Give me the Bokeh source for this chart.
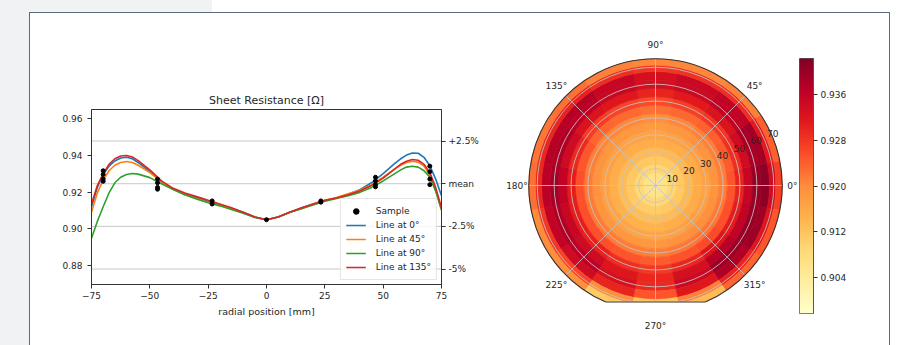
import math
import numpy as np
from bokeh.plotting import figure
from bokeh.models import (Range1d, FixedTicker, LinearAxis, Span, Legend, LegendItem,
                          PrintfTickFormatter, Div, LinearColorMapper, ColumnDataSource)
from bokeh.layouts import row, column
from bokeh.core.properties import value
from bokeh.embed import file_html
from bokeh.resources import INLINE

# ---------------- data ----------------
x_line = [-75, -72.5, -70, -67.5, -65, -62.5, -60, -57.5, -55, -50, -45, -40, -35, -30, -25, -20,
          -15, -10, -5, 0, 5, 10, 15, 20, 25, 30, 35, 40, 45, 50, 55, 57.5, 60, 62.5, 65, 67.5, 70,
          72.5, 75]
line_0 = [0.912, 0.9225, 0.9295, 0.934, 0.9368, 0.9384, 0.9388, 0.938, 0.936, 0.931, 0.9255, 0.9215,
          0.919, 0.917, 0.915, 0.913, 0.911, 0.909, 0.9065, 0.905, 0.9065, 0.909, 0.9113, 0.9135,
          0.9153, 0.9168, 0.9188, 0.9212, 0.925, 0.930, 0.9355, 0.938, 0.9400, 0.9411, 0.941, 0.9388,
          0.9342, 0.927, 0.918]
line_45 = [0.909, 0.9195, 0.9265, 0.9315, 0.9345, 0.936, 0.9365, 0.936, 0.9345, 0.9305, 0.9255,
           0.9215, 0.9185, 0.9165, 0.9145, 0.9128, 0.9108, 0.9088, 0.9065, 0.905, 0.9065, 0.909,
           0.911, 0.9135, 0.9155, 0.917, 0.919, 0.921, 0.924, 0.928, 0.9325, 0.9345, 0.936, 0.9367,
           0.9362, 0.934, 0.929, 0.921, 0.910]
line_90 = [0.895, 0.904, 0.912, 0.9195, 0.925, 0.928, 0.9295, 0.930, 0.9297, 0.9278, 0.9245, 0.9213,
           0.9185, 0.9162, 0.9142, 0.9125, 0.9105, 0.9085, 0.9062, 0.905, 0.9065, 0.909, 0.911,
           0.913, 0.915, 0.9165, 0.918, 0.9198, 0.9225, 0.926, 0.930, 0.932, 0.9335, 0.934, 0.9335,
           0.9315, 0.928, 0.9205, 0.9105]
line_135 = [0.9135, 0.9235, 0.930, 0.935, 0.938, 0.9395, 0.9398, 0.939, 0.937, 0.932, 0.926, 0.922,
            0.9195, 0.9175, 0.9155, 0.9135, 0.9115, 0.909, 0.9065, 0.905, 0.9065, 0.909, 0.9115,
            0.9135, 0.9155, 0.9168, 0.9185, 0.9205, 0.9235, 0.9275, 0.9325, 0.935, 0.9367, 0.9376,
            0.9372, 0.935, 0.9305, 0.9225, 0.9115]
line_angles = [0, 45, 90, 135]
line_labels = ["Line at 0°", "Line at 45°", "Line at 90°", "Line at 135°"]

sample_x = [-70, -70, -70, -70, -46.7, -46.7, -46.7, -46.7, -23.3, -23.3, 0,
            23.3, 23.3, 46.7, 46.7, 46.7, 46.7, 70, 70, 70, 70]
sample_y = [0.9315, 0.9295, 0.927, 0.9258, 0.927, 0.925, 0.9225, 0.9215, 0.9152, 0.9135, 0.905,
            0.9152, 0.9145, 0.928, 0.926, 0.924, 0.9228, 0.934, 0.931, 0.927, 0.924]

mean_value = 0.9245
ref_factors = [1.025, 1.0, 0.975, 0.95]
ref_labels = ["+2.5%", "mean", "-2.5%", "-5%"]

# polar map: radii (mm) and values along the intermediate directions
polar_r = [0, 5, 10, 15, 20, 25, 30, 35, 40, 45, 50, 55, 60, 65, 70, 72.5]
polar_mid_angles = [22.5, 67.5, 112.5, 157.5, 202.5, 247.5, 292.5, 337.5]
polar_mid_values = [
    [0.905, 0.9065, 0.909, 0.9112, 0.9135, 0.9154, 0.9169, 0.9189, 0.9211, 0.9245, 0.929, 0.934, 0.9385, 0.939, 0.9315, 0.924],
    [0.905, 0.9065, 0.909, 0.911, 0.9132, 0.9152, 0.9167, 0.9185, 0.9205, 0.9232, 0.927, 0.9312, 0.9348, 0.935, 0.9285, 0.9205],
    [0.905, 0.9065, 0.909, 0.9112, 0.9132, 0.9152, 0.9166, 0.9183, 0.9202, 0.923, 0.9268, 0.9318, 0.9352, 0.9355, 0.929, 0.921],
    [0.905, 0.9065, 0.909, 0.9112, 0.9132, 0.9152, 0.9169, 0.9188, 0.9212, 0.9248, 0.9295, 0.9345, 0.938, 0.9372, 0.9298, 0.922],
    [0.905, 0.9065, 0.9089, 0.9109, 0.9129, 0.9148, 0.9168, 0.9188, 0.9215, 0.9255, 0.9308, 0.9352, 0.9378, 0.936, 0.928, 0.920],
    [0.905, 0.9063, 0.9087, 0.9107, 0.9127, 0.9144, 0.9164, 0.9185, 0.9215, 0.925, 0.929, 0.932, 0.9332, 0.930, 0.9195, 0.911],
    [0.905, 0.9063, 0.9088, 0.911, 0.913, 0.9148, 0.9168, 0.919, 0.9218, 0.9252, 0.9298, 0.9335, 0.9348, 0.9318, 0.921, 0.913],
    [0.905, 0.9065, 0.909, 0.9113, 0.9134, 0.9153, 0.9171, 0.9192, 0.9216, 0.9255, 0.931, 0.9362, 0.940, 0.9395, 0.932, 0.925],
]
ring_ticks = [10, 20, 30, 40, 50, 60, 70]
angle_ticks = [0, 45, 90, 135, 180, 225, 270, 315]
wafer_radius = 75.0
flat_distance = 69.0
cbar_low, cbar_high = 0.8976, 0.9424
cbar_ticks = [0.904, 0.912, 0.920, 0.928, 0.936]

# ---------------- style ----------------
FONT = "DejaVu Sans"
TXT = "#262626"
GRAY_BG = "#f1f2f4"
BORDER = "#5b6a84"
line_colors = ["#1f77b4", "#ff7f0e", "#2ca02c", "#d62728"]

base = ['#ffffcc', '#ffeda0', '#fed976', '#feb24c', '#fd8d3c', '#fc4e2a', '#e31a1c', '#bd0026', '#800026']
def _rgb(h):
    return [int(h[i:i + 2], 16) for i in (1, 3, 5)]
palette = []
for i in range(256):
    t = i / 255 * 8
    j = min(int(t), 7)
    f = t - j
    a, b = _rgb(base[j]), _rgb(base[j + 1])
    c = [round((1 - f) * a[k] + f * b[k]) for k in range(3)]
    palette.append("#%02x%02x%02x" % tuple(c))
mapper = LinearColorMapper(palette=palette, low=cbar_low, high=cbar_high)


def no_align(fig):
    if "frame_align" in fig.properties():
        fig.frame_align = False


# ---------------- left: line chart ----------------
p1 = figure(width=452, height=332, x_range=Range1d(-75, 75), y_range=Range1d(0.8699, 0.9647),
            output_backend="svg", toolbar_location=None,
            min_border_left=61, min_border_right=41, min_border_top=96, min_border_bottom=61)
no_align(p1)
p1.title.text = "Sheet Resistance [Ω]"
p1.title.align = "center"
p1.title.text_font = FONT
p1.title.text_font_style = "normal"
p1.title.text_font_size = "11px"
p1.title.text_color = TXT
p1.title.standoff = 5
p1.xgrid.visible = False
p1.ygrid.visible = False
p1.outline_line_color = "#333333"
p1.outline_line_alpha = 1.0

for lvl_f in ref_factors:
    p1.add_layout(Span(location=mean_value * lvl_f, dimension="width", line_color="#c8c8c8",
                       line_width=1, level="underlay"))

line_renderers = []
for ys, col in zip([line_0, line_45, line_90, line_135], line_colors):
    line_renderers.append(p1.line(x_line, ys, line_color=col, line_width=1.6, line_join="round"))
r_sample = p1.scatter(sample_x, sample_y, size=4, color="black")

ax = p1.xaxis[0]
ax.ticker = FixedTicker(ticks=[-75, -50, -25, 0, 25, 50, 75])
ax.major_label_overrides = {-75: "−75", -50: "−50", -25: "−25"}
ax.axis_label = "radial position [mm]"
ay = p1.yaxis[0]
ay.ticker = FixedTicker(ticks=[0.88, 0.90, 0.92, 0.94, 0.96])
ay.formatter = PrintfTickFormatter(format="%.2f")
ref_levels = [mean_value * f for f in ref_factors]
ar = LinearAxis(ticker=FixedTicker(ticks=ref_levels),
                major_label_overrides={lv: lb for lv, lb in zip(ref_levels, ref_labels)})
p1.add_layout(ar, "right")
for a in (ax, ay, ar):
    a.major_tick_out = 4
    a.major_tick_in = 0
    a.minor_tick_line_color = None
    a.axis_line_color = "#333333"
    a.major_tick_line_color = "#333333"
    a.major_label_text_font = FONT
    a.major_label_text_font_size = "9px"
    a.major_label_text_color = TXT
    a.axis_label_text_font = FONT
    a.axis_label_text_font_size = "9.5px"
    a.axis_label_text_font_style = "normal"
    a.axis_label_text_color = TXT
ax.major_label_standoff = 3
ax.axis_label_standoff = 4
ay.major_label_standoff = 5
ar.major_label_standoff = 3

items = [LegendItem(label="Sample", renderers=[r_sample])]
for lab, rr in zip(line_labels, line_renderers):
    items.append(LegendItem(label=lab, renderers=[rr]))
leg = Legend(items=items, location="bottom_right", margin=4, padding=5, spacing=0,
             glyph_width=20, glyph_height=14, label_height=14, label_standoff=10,
             label_text_font=FONT, label_text_font_size="9px", label_text_color=TXT,
             border_line_color="#cccccc", background_fill_alpha=0.8)
p1.add_layout(leg)

# ---------------- middle: polar map ----------------
K = 126.7 / 75.0          # px per mm
CX, CY = 655, 185         # wafer centre in page px
PX0, PX1 = 482, 799       # polar figure left/right in page px
PY0, PY1 = 13, 345
p2 = figure(width=PX1 - PX0, height=PY1 - PY0,
            x_range=Range1d((PX0 - CX) / K, (PX1 - CX) / K),
            y_range=Range1d((CY - PY1) / K, (CY - PY0) / K),
            output_backend="svg", toolbar_location=None, min_border=0,
            x_axis_location=None, y_axis_location=None, outline_line_color=None)
no_align(p2)
p2.grid.visible = False

directions = []
line_sets = [line_0, line_45, line_90, line_135]
for ang, ys in zip(line_angles, line_sets):
    directions.append((ang, [ys[x_line.index(r)] for r in polar_r]))
    directions.append((ang + 180, [ys[x_line.index(-r)] for r in polar_r]))
for ang, vals in zip(polar_mid_angles, polar_mid_values):
    directions.append((ang, vals))

# ring edges halfway between the sampled radii
edges = [0.0] + [(polar_r[i] + polar_r[i + 1]) / 2 for i in range(len(polar_r) - 1)] + [wafer_radius]
wd = dict(inner=[], outer=[], start=[], end=[], v=[])
half = math.radians(11.25)
for ang, vals in directions:
    for k, v in enumerate(vals):
        wd["inner"].append(edges[k])
        wd["outer"].append(edges[k + 1])
        wd["start"].append(math.radians(ang) - half)
        wd["end"].append(math.radians(ang) + half)
        wd["v"].append(v)
src = ColumnDataSource(wd)
p2.annular_wedge(x=0, y=0, inner_radius="inner", outer_radius="outer", start_angle="start",
                 end_angle="end", source=src,
                 fill_color={"field": "v", "transform": mapper},
                 line_color={"field": "v", "transform": mapper}, line_width=0.7)

p2.circle(x=[0] * len(ring_ticks), y=[0] * len(ring_ticks), radius=ring_ticks, fill_color=None,
          line_color="#c4c4c4", line_width=1, line_alpha=0.85)
p2.segment(x0=[0] * 8, y0=[0] * 8,
           x1=[wafer_radius * math.cos(math.radians(a)) for a in angle_ticks],
           y1=[wafer_radius * math.sin(math.radians(a)) for a in angle_ticks],
           line_color="#c4c4c4", line_width=1, line_alpha=0.85)

hc = math.sqrt(wafer_radius ** 2 - flat_distance ** 2)
phi = math.asin(hc / wafer_radius)
p2.quad(left=[-hc - 4], right=[hc + 4], bottom=[-wafer_radius - 3], top=[-flat_distance],
        fill_color="white", line_color="white", line_width=1)
p2.arc(x=0, y=0, radius=wafer_radius, start_angle=-math.pi / 2 + phi,
       end_angle=3 * math.pi / 2 - phi, direction="anticlock", line_color="#3a3030", line_width=1.1)
p2.segment(x0=[-hc], y0=[-flat_distance], x1=[hc], y1=[-flat_distance],
           line_color="#3a3030", line_width=1.1)

angle_label_r = [81, 83, 83, 83, 82, 83, 83, 83]
p2.text(x=[rr * math.cos(math.radians(a)) for rr, a in zip(angle_label_r, angle_ticks)],
        y=[rr * math.sin(math.radians(a)) for rr, a in zip(angle_label_r, angle_ticks)],
        text=[f"{a}°" for a in angle_ticks], text_align="center", text_baseline="middle",
        text_font=value(FONT), text_font_size="9px", text_color=TXT)
p2.text(x=[1.085 * r * math.cos(math.radians(24)) for r in ring_ticks],
        y=[1.085 * r * math.sin(math.radians(24)) for r in ring_ticks],
        text=[str(r) for r in ring_ticks], text_align="center", text_baseline="middle",
        text_font=value(FONT), text_font_size="9px", text_color=TXT)

# ---------------- right: colour bar ----------------
cb = figure(width=90, height=332, x_range=Range1d(0, 1), y_range=Range1d(cbar_low, cbar_high),
            output_backend="svg", toolbar_location=None,
            min_border_left=0, min_border_right=76, min_border_top=45, min_border_bottom=32,
            x_axis_location=None, y_axis_location="right")
no_align(cb)
cb.grid.visible = False
cb.outline_line_color = "#555555"
cb.image(image=[np.linspace(cbar_low, cbar_high, 256).reshape(256, 1)], x=0, y=cbar_low, dw=1,
         dh=cbar_high - cbar_low, color_mapper=mapper)
cy_ax = cb.yaxis[0]
cy_ax.ticker = FixedTicker(ticks=cbar_ticks)
cy_ax.formatter = PrintfTickFormatter(format="%.3f")
cy_ax.major_tick_out = 4
cy_ax.major_tick_in = 0
cy_ax.minor_tick_line_color = None
cy_ax.axis_line_color = "#555555"
cy_ax.major_tick_line_color = "#333333"
cy_ax.major_label_standoff = 3
cy_ax.major_label_text_font = FONT
cy_ax.major_label_text_font_size = "9px"
cy_ax.major_label_text_color = TXT

# ---------------- page frame ----------------
def block(w, h, color):
    return Div(text="", width=w, height=h, margin=0, styles={"background-color": color})

top = row(block(212, 12, GRAY_BG), block(685, 12, "white"), spacing=0, margin=0)
border_row = row(block(29, 1, GRAY_BG), block(861, 1, BORDER), block(7, 1, "white"),
                 spacing=0, margin=0)
main = row(block(29, 332, GRAY_BG), block(1, 332, BORDER), p1, p2, cb, block(1, 332, BORDER),
           block(7, 332, "white"), spacing=0, margin=0)
page = column(top, border_row, main, spacing=0, margin=0)

open("out.html", "w").write(file_html(page, INLINE))
